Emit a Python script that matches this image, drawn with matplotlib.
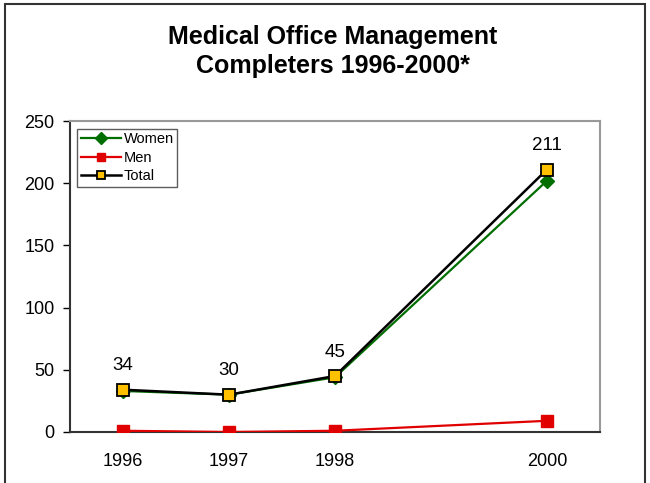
import matplotlib.pyplot as plt
from matplotlib.patches import Rectangle

years = [1996, 1997, 1998, 2000]
women = [33, 30, 44, 202]
men = [1, 0, 1, 9]
total = [34, 30, 45, 211]

plt.rcParams['font.family'] = ['Liberation Sans', 'DejaVu Sans']

fig = plt.figure(figsize=(6.5, 4.83), dpi=100)
ax = fig.add_axes([70/650, 1-432/483, 530/650, 311/483])

ax.plot(years, women, color='#006e00', lw=1.6, marker='D', ms=7,
        mfc='#006e00', mec='#006e00', label='Women', zorder=3)
ax.plot(years, men, color='#e00000', lw=1.6, marker='s', ms=8,
        mfc='#e00000', mec='#e00000', label='Men', zorder=3)
ax.plot(years, total, color='black', lw=1.8, marker='s', ms=8,
        mfc='#ffc000', mec='black', mew=1.3, label='Total', zorder=4)

for x, t in zip(years, total):
    ax.annotate(str(t), (x, t), xytext=(0, 11), textcoords='offset points',
                ha='center', va='bottom', fontsize=13.5)

ax.set_xlim(1995.5, 2000.5)
ax.set_ylim(0, 250)
ax.set_xticks(years)
ax.set_xticklabels([str(y) for y in years])
ax.set_yticks(range(0, 251, 50))
ax.tick_params(axis='x', length=0, pad=15, labelsize=13)
ax.tick_params(axis='y', length=5, width=1, pad=6, labelsize=13)

for s in ['top', 'right']:
    ax.spines[s].set_color('#999999')
    ax.spines[s].set_linewidth(1.5)
for s in ['left', 'bottom']:
    ax.spines[s].set_color('#333333')
    ax.spines[s].set_linewidth(1.5)

leg = ax.legend(loc='upper left', bbox_to_anchor=(0.013, 0.975), fontsize=10.5,
                frameon=True, fancybox=False, handlelength=2.8,
                borderpad=0.25, labelspacing=0.3, handletextpad=0.15,
                borderaxespad=0)
leg.get_frame().set_edgecolor('#333333')
leg.get_frame().set_linewidth(1.0)
for h in leg.legend_handles:
    h.set_markersize(6)

fig.text(0.512, 1-37/483, 'Medical Office Management', ha='center',
         va='center', fontsize=18, fontweight='bold')
fig.text(0.512, 1-66/483, 'Completers 1996-2000*', ha='center',
         va='center', fontsize=18, fontweight='bold')

fig.add_artist(Rectangle((5/650, -0.1), 640/650, 1.1 - 4/483,
                         transform=fig.transFigure, fill=False,
                         edgecolor='#333333', lw=1.5))

fig.savefig('out.png', dpi=100)
